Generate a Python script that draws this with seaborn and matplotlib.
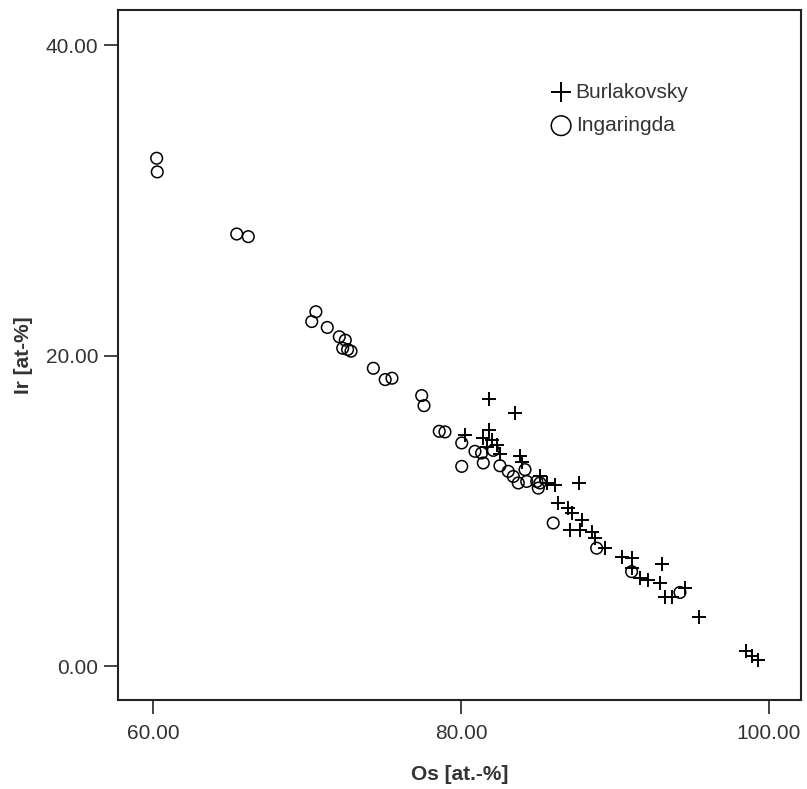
import matplotlib
matplotlib.use("Agg")
import matplotlib.pyplot as plt
import seaborn as sns
import pandas as pd

# Ingaringda (open circles)
ing_os = [60.24, 60.28, 65.44, 66.19, 70.58, 70.31, 71.32, 72.10, 72.49, 72.32,
          72.64, 72.86, 74.31, 75.08, 75.52, 77.45, 77.60, 78.59, 78.96, 80.05,
          80.05, 80.91, 81.34, 81.45, 82.10, 82.53, 83.07, 83.40, 83.72, 84.16,
          84.27, 84.92, 85.02, 85.13, 85.99, 88.81, 91.08, 94.22]
ing_ir = [32.71, 31.83, 27.83, 27.66, 22.82, 22.19, 21.81, 21.21, 20.99, 20.47,
          20.39, 20.28, 19.18, 18.45, 18.54, 17.42, 16.77, 15.12, 15.08, 14.37,
          12.86, 13.83, 13.72, 13.08, 13.89, 12.90, 12.54, 12.21, 11.79, 12.65,
          11.89, 11.89, 11.46, 11.79, 9.21, 7.59, 6.08, 4.74]

# Burlakovsky (plus markers)
bur_os = [80.26, 81.84, 83.53, 81.84, 81.45, 82.00, 82.34, 81.69, 82.53, 83.83,
          83.94, 85.13, 85.56, 86.10, 87.68, 86.32, 86.97, 87.19, 87.84, 87.08,
          87.73, 88.49, 88.70, 89.35, 90.43, 91.08, 93.03, 91.08, 91.62, 92.16,
          92.92, 93.25, 93.68, 94.55, 95.47, 98.51, 98.88, 99.27]
bur_ir = [14.90, 17.23, 16.30, 15.18, 14.69, 14.54, 14.26, 14.13, 13.68, 13.55,
          13.16, 12.21, 11.79, 11.68, 11.79, 10.50, 10.17, 9.85, 9.42, 8.77,
          8.77, 8.66, 8.24, 7.59, 7.05, 6.95, 6.58, 6.30, 5.66, 5.55,
          5.34, 4.47, 4.47, 5.01, 3.14, 0.99, 0.65, 0.39]

xticks = [60, 80, 100]
yticks = [0, 20, 40]

sns.set_theme(style="white")
plt.rcParams['font.family'] = ['Liberation Sans', 'DejaVu Sans']

fig = plt.figure(figsize=(8.07, 7.89), dpi=100)
ax = fig.add_axes([118/807, 1-700/789, (801-118)/807, (700-10)/789])

df_b = pd.DataFrame({"Os": bur_os, "Ir": bur_ir})
df_i = pd.DataFrame({"Os": ing_os, "Ir": ing_ir})

sns.scatterplot(data=df_b, x="Os", y="Ir", marker="+", color="black", s=110,
                linewidth=1.4, ax=ax, label="Burlakovsky", zorder=3)
sns.scatterplot(data=df_i, x="Os", y="Ir", marker="o", facecolor="none",
                edgecolor="black", s=70, linewidth=1.1, ax=ax, label="Ingaringda", zorder=2)

ax.set_xlim(57.73, 102.08)
ax.set_ylim(-2.19, 42.26)
ax.set_xticks(xticks)
ax.set_yticks(yticks)
ax.set_xticklabels([f"{v:.2f}" for v in xticks])
ax.set_yticklabels([f"{v:.2f}" for v in yticks])
for sp in ax.spines.values():
    sp.set_visible(True)
    sp.set_color("#222222")
    sp.set_linewidth(1.5)
ax.tick_params(axis="both", which="both", direction="out", length=10, width=1.2,
               color="#222222", labelsize=15, labelcolor="#333333",
               left=True, bottom=True, top=False, right=False)
ax.tick_params(axis="x", pad=7)
ax.tick_params(axis="y", pad=4)
ax.set_xlabel("Os [at.-%]", fontsize=15, fontweight="bold", color="#333333", labelpad=16)
ax.set_ylabel("Ir [at-%]", fontsize=15, fontweight="bold", color="#333333", labelpad=9)

leg = ax.legend(loc="upper left", bbox_to_anchor=(0.603, 0.922), frameon=False,
                fontsize=15, handletextpad=0.1, labelspacing=0.7,
                handlelength=1.2)
for h in leg.legend_handles:
    h.set_sizes([200])
for t in leg.get_texts():
    t.set_color("#333333")

fig.savefig("out.png", dpi=100)
